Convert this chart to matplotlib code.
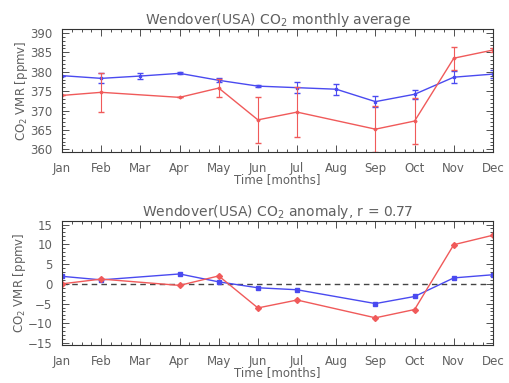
import numpy as np
import matplotlib
matplotlib.use('Agg')
import matplotlib.pyplot as plt
from matplotlib.ticker import MultipleLocator

months = ['Jan', 'Feb', 'Mar', 'Apr', 'May', 'Jun', 'Jul', 'Aug', 'Sep', 'Oct', 'Nov', 'Dec']

# monthly average (blue = all 12 months)
blue_x = [1, 2, 3, 4, 5, 6, 7, 8, 9, 10, 11, 12]
blue_avg = [379.0, 378.3, 378.9, 379.6, 377.8, 376.3, 375.9, 375.5, 372.3, 374.2, 378.6, 379.4]
blue_err = [0.0, 1.3, 0.7, 0.3, 0.5, 0.2, 1.4, 1.4, 1.4, 1.2, 1.6, 1.1]

# red series has no Mar / Aug
red_x = [1, 2, 4, 5, 6, 7, 9, 10, 11, 12]
red_avg = [373.9, 374.7, 373.4, 375.8, 367.6, 369.6, 365.2, 367.3, 383.5, 385.6]
red_err = [0.0, 5.0, 0.0, 2.3, 5.9, 6.4, 6.0, 5.9, 3.0, 0.5]

# anomaly
anom_x = [1, 2, 4, 5, 6, 7, 9, 10, 11, 12]
blue_anom = [1.9, 1.0, 2.5, 0.5, -1.0, -1.5, -5.0, -3.2, 1.5, 2.3]
red_anom = [0.0, 1.2, -0.4, 2.0, -6.1, -4.1, -8.6, -6.5, 9.9, 12.3]

BLUE = '#4a4af0'
RED = '#f05a5a'
TXT = '#606060'

plt.rcParams['font.family'] = ['DejaVu Sans']
plt.rcParams['font.size'] = 8.5

fig = plt.figure(figsize=(5.10, 3.83), dpi=100)
ax1 = fig.add_axes([0.1216, 0.603, 0.845, 0.321])
ax2 = fig.add_axes([0.1216, 0.099, 0.845, 0.324])


def style(ax):
    ax.set_xlim(1, 12)
    ax.set_xticks(range(1, 13))
    ax.set_xticklabels(months, color=TXT)
    ax.xaxis.set_minor_locator(MultipleLocator(0.25))
    ax.tick_params(which='both', direction='in', top=True, right=True, colors='#333333',
                   labelcolor=TXT, width=0.6)
    ax.tick_params(which='major', length=5, pad=7)
    ax.tick_params(which='minor', length=2.5)
    for s in ax.spines.values():
        s.set_color('#333333')
        s.set_linewidth(0.8)
    ax.set_xlabel('Time [months]', color=TXT, labelpad=-1)
    ax.set_ylabel('CO$_2$ VMR [ppmv]', color=TXT, labelpad=0)


ax1.plot(blue_x, blue_avg, color=BLUE, lw=1, marker='s', ms=2)
ax1.errorbar(blue_x, blue_avg, yerr=blue_err, fmt='none', ecolor=BLUE, elinewidth=0.8, capsize=2)
ax1.plot(red_x, red_avg, color=RED, lw=1, marker='D', ms=1.5)
ax1.errorbar(red_x, red_avg, yerr=red_err, fmt='none', ecolor=RED, elinewidth=0.8, capsize=2)
ax1.set_ylim(359.3, 391)
ax1.yaxis.set_major_locator(MultipleLocator(5))
ax1.yaxis.set_minor_locator(MultipleLocator(1))
style(ax1)
ax1.set_title('Wendover(USA) CO$_2$ monthly average', color=TXT, fontsize=10, pad=3)

ax2.axhline(0, color='#444444', lw=1, ls=(0, (4, 3)))
ax2.plot(anom_x, blue_anom, color=BLUE, lw=1, marker='s', ms=3)
ax2.plot(anom_x, red_anom, color=RED, lw=1, marker='D', ms=3)
ax2.set_ylim(-15.5, 15.9)
ax2.yaxis.set_major_locator(MultipleLocator(5))
ax2.yaxis.set_minor_locator(MultipleLocator(1))
style(ax2)
ax2.set_yticklabels(['\u221215' if v == -15 else '\u221210' if v == -10 else '\u22125' if v == -5 else f'{v:g}'
                     for v in ax2.get_yticks()])
ax2.set_title('Wendover(USA) CO$_2$ anomaly, r = 0.77', color=TXT, fontsize=10, pad=3)

fig.savefig('out.png', dpi=100)
